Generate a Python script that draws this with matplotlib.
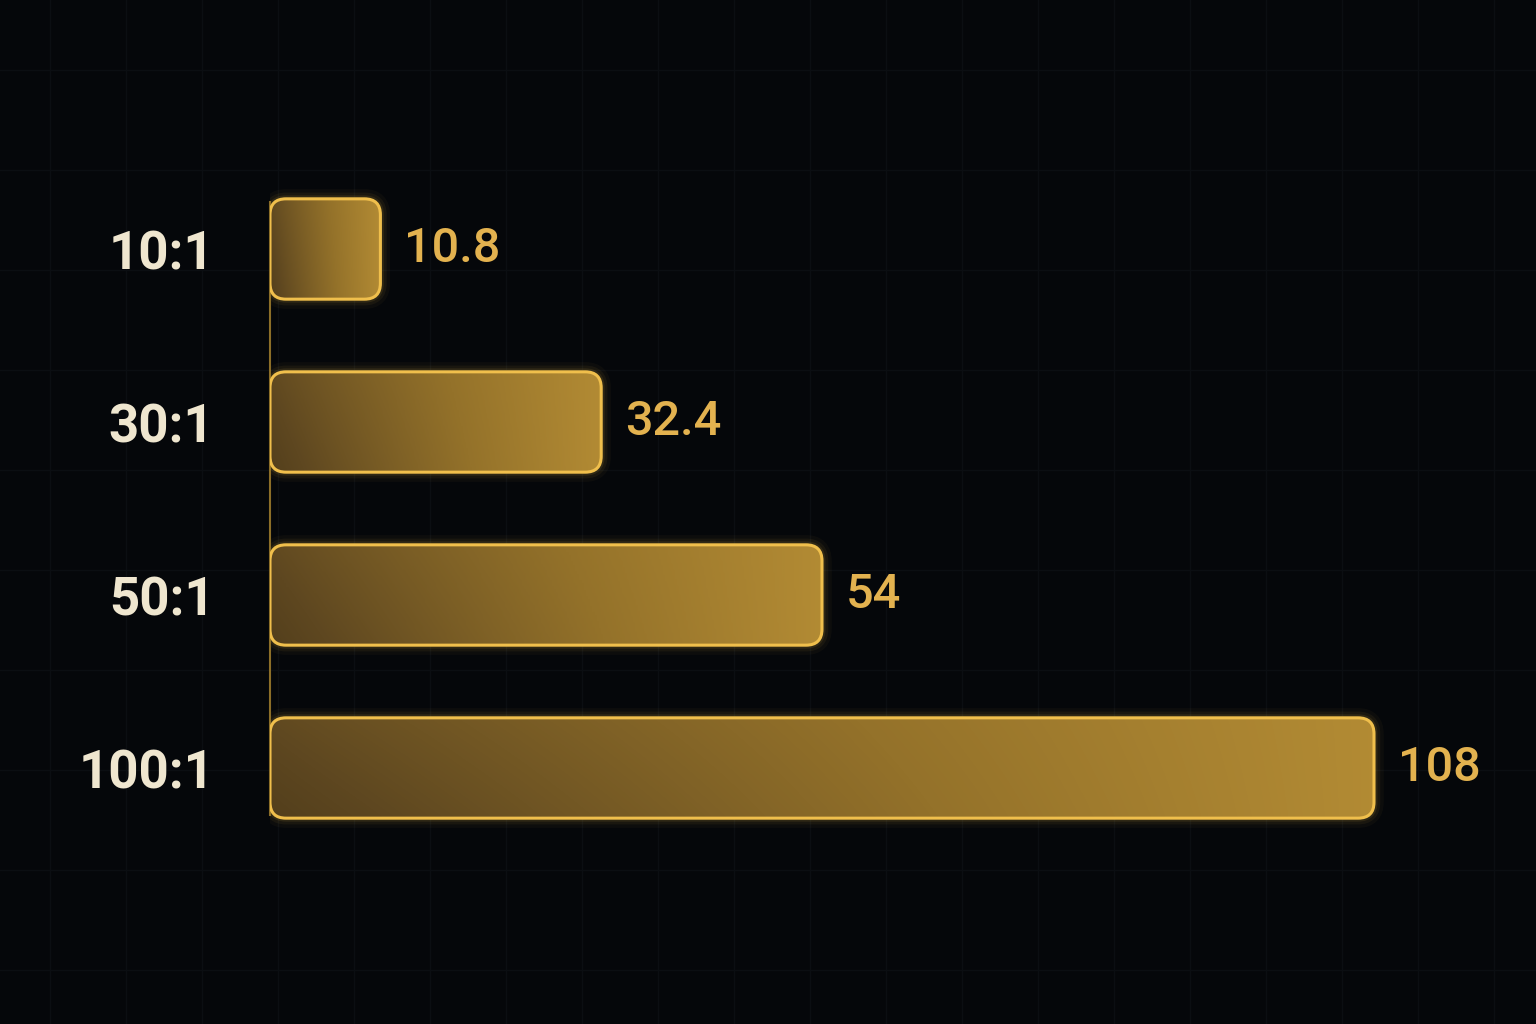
import numpy as np
import matplotlib
matplotlib.use("Agg")
import matplotlib.pyplot as plt
from matplotlib.patches import FancyBboxPatch
from matplotlib.lines import Line2D
from matplotlib.colors import LinearSegmentedColormap

# data
ratios = ["10:1", "30:1", "50:1", "100:1"]
values = [10.8, 32.4, 54, 108]
value_labels = ["10.8", "32.4", "54", "108"]

BG = "#05070a"
GOLD = "#f0bf4c"
LABEL = "#efe6cf"
VALUE = "#e3b24f"

plt.rcParams['font.family'] = ['Roboto', 'DejaVu Sans']

fig = plt.figure(figsize=(15.36, 10.24), dpi=100, facecolor=BG)

# faint background grid over the whole picture
for gx in np.arange(50, 1536, 76):
    fig.add_artist(Line2D([gx / 1536, gx / 1536], [0, 1], color="#0b0e12", lw=1, zorder=0))
for gy in np.arange(70, 1024, 100):
    fig.add_artist(Line2D([0, 1], [1 - gy / 1024, 1 - gy / 1024], color="#0b0e12", lw=1, zorder=0))

ax = fig.add_axes([270 / 1536, 1 - 900 / 1024, 1230 / 1536, 780 / 1024])
ax.set_facecolor("none")
upx = 108 / 1104  # data units per pixel along x
ax.set_xlim(0, 1230 * upx)
ax.set_ylim(3 + 132 / 173, -129 / 173)

ypos = np.arange(len(ratios))
bar_h = 0.58
bars = ax.barh(ypos, values, height=bar_h, color="none", edgecolor="none")

cmap = LinearSegmentedColormap.from_list("gold", ["#33270f", "#5e4720", "#94722a", "#bf9538"])

fig.canvas.draw()
# pixels per data unit in each direction, to keep corners circular
p0 = ax.transData.transform((0, 0))
p1 = ax.transData.transform((1, 1))
sx = abs(p1[0] - p0[0])
sy = abs(p1[1] - p0[1])
radius_px = 16
rs = radius_px / sx
aspect = (radius_px / sy) / rs

for b, lab in zip(bars, value_labels):
    x, y = b.get_x(), b.get_y()
    w, h = b.get_width(), b.get_height()
    # glow
    for lw, a in [(14, 0.035), (9, 0.06), (5, 0.1)]:
        g = FancyBboxPatch((x, y), w, h, boxstyle=f"round,pad=0,rounding_size={rs}",
                           mutation_aspect=aspect, facecolor="none", edgecolor=GOLD,
                           lw=lw, alpha=a, zorder=2)
        ax.add_patch(g)
    patch = FancyBboxPatch((x, y), w, h, boxstyle=f"round,pad=0,rounding_size={rs}",
                           mutation_aspect=aspect, facecolor="none", edgecolor=GOLD,
                           lw=2.2, zorder=4)
    ax.add_patch(patch)
    # gradient fill: dark at left, bright toward the right, a bit darker low-left
    gx = np.linspace(0, 1, 256)[None, :]
    gy = np.linspace(0, 1, 32)[:, None]
    grad = 0.25 + 0.65 * gx ** 0.9 + 0.1 * (1 - gy) * (1 - gx)
    im = ax.imshow(grad, cmap=cmap, vmin=0, vmax=1, aspect="auto",
                   extent=(x, x + w, y + h, y), zorder=3, interpolation="bilinear")
    im.set_clip_path(patch)
    ax.text(x + w + 24 * upx, y + h / 2, lab,
            color=VALUE, fontsize=35, fontweight="medium", va="center", ha="left", zorder=5)

# axis line from first to last bar
ax.spines["left"].set_bounds(ypos[0] - bar_h / 2 + 0.02, ypos[-1] + bar_h / 2 - 0.02)
ax.spines["left"].set_color("#8c6e28")
ax.spines["left"].set_linewidth(1.5)
for s in ["top", "right", "bottom"]:
    ax.spines[s].set_visible(False)

ax.set_yticks(ypos)
ax.set_yticklabels(ratios, color=LABEL, fontsize=38, fontweight="semibold")
ax.tick_params(axis="y", length=0, pad=40)
ax.set_xticks([])

fig.savefig("out.png", dpi=100, facecolor=BG)
